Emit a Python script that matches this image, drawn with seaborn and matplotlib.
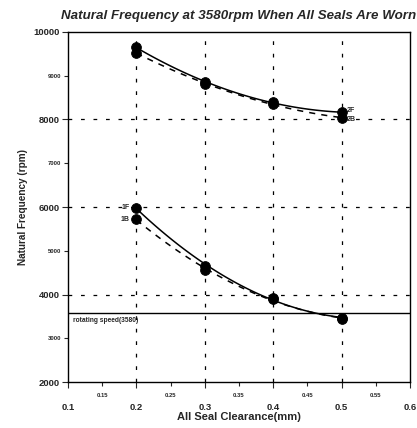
import numpy as np
import pandas as pd
import matplotlib
matplotlib.use('Agg')
import matplotlib.pyplot as plt
import seaborn as sns
from matplotlib.ticker import MultipleLocator, FormatStrFormatter

# data
clearance = [0.2, 0.3, 0.4, 0.5]
freq_2f = [9650, 8850, 8400, 8160]
freq_2b = [9520, 8820, 8350, 8040]
freq_1f = [5980, 4650, 3920, 3460]
freq_1b = [5720, 4560, 3900, 3450]
rotating_speed = 3580

df = pd.DataFrame({'clearance': clearance, '2F': freq_2f, '2B': freq_2b,
                   '1F': freq_1f, '1B': freq_1b})

sns.set_style('ticks')
plt.rcParams['font.family'] = ['Liberation Sans', 'DejaVu Sans']

fig = plt.figure(figsize=(4.17, 4.28), dpi=100)
ax = fig.add_axes([68 / 417, 1 - 382 / 428, (410 - 68) / 417, (382 - 32) / 428])

# smooth curves: solid for forward modes, dashed for backward modes
for col, ls in [('2F', '-'), ('2B', (0, (4, 4))), ('1F', '-'), ('1B', (0, (4, 4)))]:
    sns.regplot(x='clearance', y=col, data=df, order=2, ci=None, scatter=False,
                truncate=True, ax=ax,
                line_kws={'color': 'black', 'linestyle': ls, 'linewidth': 1.1})
    sns.scatterplot(x='clearance', y=col, data=df, ax=ax, color='black',
                    s=50, edgecolor='black', zorder=5, legend=False)

# rotating speed line
ax.axhline(rotating_speed, color='black', linewidth=1.0)
ax.text(0.108, rotating_speed - 90, f'rotating speed({rotating_speed})',
        fontsize=4.8, fontweight='bold', va='top', ha='left')

# mode labels
ax.text(0.507, freq_2f[-1] + 50, '2F', fontsize=5, fontweight='bold', va='center')
ax.text(0.507, freq_2b[-1] - 50, '2B', fontsize=5, fontweight='bold', va='center')
ax.text(0.190, freq_1f[0], '1F', fontsize=5, fontweight='bold', va='center', ha='right')
ax.text(0.190, freq_1b[0], '1B', fontsize=5, fontweight='bold', va='center', ha='right')

ax.set_xlim(0.1, 0.6)
ax.set_ylim(2000, 10000)

ax.xaxis.set_major_locator(MultipleLocator(0.1))
ax.xaxis.set_minor_locator(MultipleLocator(0.05))
ax.xaxis.set_major_formatter(FormatStrFormatter('%.1f'))
ax.xaxis.set_minor_formatter(FormatStrFormatter('%.2f'))
ax.yaxis.set_major_locator(MultipleLocator(2000))
ax.yaxis.set_minor_locator(MultipleLocator(1000))
ax.yaxis.set_major_formatter(FormatStrFormatter('%d'))
ax.yaxis.set_minor_formatter(FormatStrFormatter('%d'))

ax.tick_params(axis='both', which='major', labelsize=6.8, length=4, width=0.8, pad=2)
ax.tick_params(axis='both', which='minor', labelsize=4.2, length=3, width=0.8, pad=2)
ax.tick_params(axis='x', which='major', pad=11)
ax.tick_params(axis='x', which='minor', pad=5)
for lab in ax.get_xticklabels() + ax.get_yticklabels():
    lab.set_fontweight('bold')
for lab in ax.get_xticklabels(minor=True) + ax.get_yticklabels(minor=True):
    lab.set_fontweight('bold')

# dashed grid at 0.2-0.5 and 4000/6000/8000
for xv in clearance:
    ax.axvline(xv, color='black', linestyle=(0, (3, 7)), linewidth=0.9, zorder=0)
for yv in [4000, 6000, 8000]:
    ax.axhline(yv, color='black', linestyle=(0, (3, 7)), linewidth=0.9, zorder=0)

for sp in ax.spines.values():
    sp.set_linewidth(1.0)
    sp.set_color('black')

ax.set_xlabel('All Seal Clearance(mm)', fontsize=8, fontweight='bold', labelpad=0)
ax.set_ylabel('Natural Frequency (rpm)', fontsize=7.2, fontweight='bold', labelpad=4)
ax.set_title('Natural Frequency at 3580rpm When All Seals Are Worn',
             fontsize=9.6, fontweight='bold', style='italic', pad=9)

fig.savefig('out.png', dpi=100)
